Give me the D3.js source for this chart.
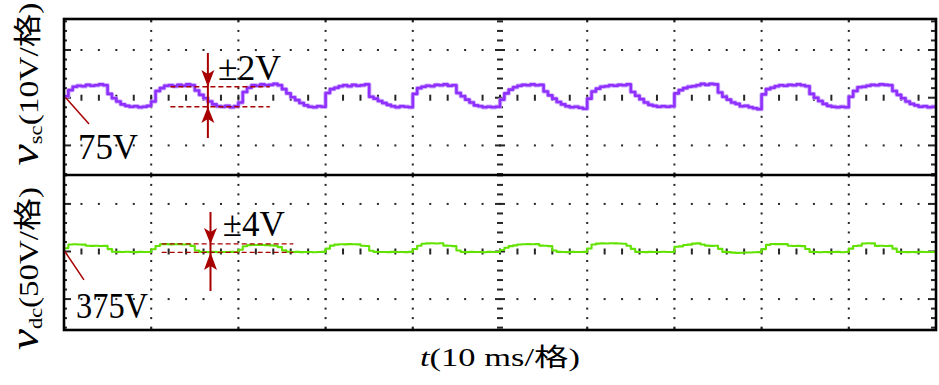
<!DOCTYPE html>
<html><head><meta charset="utf-8">
<script src="https://cdn.jsdelivr.net/npm/d3@7/dist/d3.min.js"></script>
<style>html,body{margin:0;padding:0;background:#fff;} svg{display:block;}</style>
</head><body>
<svg id="chart" width="939" height="385"></svg>
<script>
// ---- data (time in ms, 10 ms/div; traces in volts) ----
const timeMs = [
 0,0.5,1,1.5,2,2.5,3,3.5,4,4.5,5,5.5,6,6.5,7,7.5,8,8.5,9,9.5,
 10,10.5,11,11.5,12,12.5,13,13.5,14,14.5,15,15.5,16,16.5,17,17.5,18,18.5,19,19.5,
 20,20.5,21,21.5,22,22.5,23,23.5,24,24.5,25,25.5,26,26.5,27,27.5,28,28.5,29,29.5,
 30,30.5,31,31.5,32,32.5,33,33.5,34,34.5,35,35.5,36,36.5,37,37.5,38,38.5,39,39.5,
 40,40.5,41,41.5,42,42.5,43,43.5,44,44.5,45,45.5,46,46.5,47,47.5,48,48.5,49,49.5,
 50,50.5,51,51.5,52,52.5,53,53.5,54,54.5,55,55.5,56,56.5,57,57.5,58,58.5,59,59.5,
 60,60.5,61,61.5,62,62.5,63,63.5,64,64.5,65,65.5,66,66.5,67,67.5,68,68.5,69,69.5,
 70,70.5,71,71.5,72,72.5,73,73.5,74,74.5,75,75.5,76,76.5,77,77.5,78,78.5,79,79.5,
 80,80.5,81,81.5,82,82.5,83,83.5,84,84.5,85,85.5,86,86.5,87,87.5,88,88.5,89,89.5,
 90,90.5,91,91.5,92,92.5,93,93.5,94,94.5,95,95.5,96,96.5,97,97.5,98,98.5,99,99.5,
 100];
const vscVolts = [
 75.3,76.6,77.3,77.5,77.4,77.7,77.5,77.6,77.8,77.6,75.8,74.9,74.2,73.6,73.3,73.1,73.2,73.0,73.1,73.3,
 74.2,76.4,77.0,77.5,77.6,77.4,77.7,77.5,77.8,77.6,76.5,75.6,74.9,74.2,73.6,73.2,73.1,73.3,73.0,73.2,
 74.0,76.2,77.1,77.6,77.5,77.8,77.6,77.7,77.9,77.6,76.8,75.9,75.1,74.5,73.9,73.4,73.1,73.0,73.2,73.1,
 76.0,76.8,77.1,77.4,77.6,77.4,77.7,77.5,77.6,77.8,75.2,74.8,74.3,73.9,73.5,73.2,73.0,73.2,73.1,73.0,
 75.8,77.0,77.3,77.5,77.4,77.7,77.6,77.8,77.5,77.6,76.0,75.3,74.6,74.0,73.4,73.2,73.0,73.1,73.0,73.1,
 74.6,75.9,76.7,77.2,77.5,77.7,77.6,77.8,77.6,77.7,76.3,75.5,74.8,74.1,73.6,73.2,73.0,73.1,72.9,72.7,
 74.8,76.3,76.9,77.3,77.4,77.6,77.5,77.7,77.6,77.8,76.2,75.4,74.7,74.0,73.5,73.3,73.1,73.2,73.1,73.2,
 75.9,76.6,77.0,77.3,77.4,77.6,77.9,77.7,77.9,77.8,76.1,75.2,74.6,74.0,73.7,73.2,73.3,73.0,72.8,72.6,
 75.7,76.8,77.1,77.4,77.6,77.5,77.7,77.6,77.8,77.6,77.4,75.8,75.0,74.3,73.7,73.3,73.1,73.0,73.1,73.0,
 75.2,76.4,77.2,77.3,77.5,77.7,77.6,77.8,77.7,77.6,76.4,75.6,74.9,74.2,73.7,73.4,73.1,73.2,73.0,73.1,
 73.1];
const vdcVolts = [
 378.4,382.3,382.6,382.4,382.2,381.0,380.9,381.1,380.8,380.9,377.5,374.8,374.6,374.4,374.7,374.5,374.3,374.6,374.4,374.5,
 377.3,380.8,382.6,382.7,382.5,382.6,382.8,382.4,382.6,380.9,376.0,374.6,374.5,374.3,374.6,374.2,374.5,374.4,374.6,374.5,
 376.8,380.5,381.7,381.9,381.8,381.9,381.7,381.4,381.2,379.6,376.2,374.7,374.5,374.6,374.3,374.5,374.4,374.2,374.5,374.6,
 378.0,381.2,382.2,382.6,382.5,382.7,382.6,382.5,381.1,380.8,375.8,374.6,374.4,374.5,374.3,374.6,374.4,374.5,374.3,374.6,
 377.6,381.0,383.2,383.5,383.6,383.4,383.6,381.2,381.0,380.6,376.0,374.5,374.3,374.6,374.4,374.5,374.2,374.6,374.4,374.5,
 376.5,379.0,380.6,381.4,382.4,382.6,382.8,382.6,382.7,381.2,381.0,380.6,376.0,374.6,374.4,374.3,374.6,374.5,374.4,374.6,
 378.2,382.3,383.3,383.5,383.4,383.6,383.5,383.4,383.2,381.0,377.8,374.6,374.5,374.3,374.6,374.4,374.5,374.7,374.4,374.5,
 380.0,380.4,381.8,382.2,383.3,383.5,382.4,381.2,380.9,381.1,377.8,374.6,374.3,373.8,373.6,373.7,373.9,374.0,374.2,374.3,
 377.5,382.0,382.9,382.8,382.7,382.8,381.0,380.8,380.9,380.7,377.6,374.6,374.4,374.2,374.5,374.3,374.4,374.6,374.2,374.4,
 378.0,380.8,381.2,383.4,383.6,383.5,380.9,381.0,380.8,380.9,378.0,374.6,374.4,374.3,374.5,374.3,374.6,374.4,374.5,374.4,
 374.5];
const panelNames = ["v", "v"];
const panelSubs = ["sc", "dc"];
const panelScales = ["(10V/格)", "(50V/格)"];
const offsetLabels = ["75V", "375V"];
const rippleLabels = ["±2V", "±4V"];
const xLabelVar = "t";
const xLabelRest = "(10 ms/格)";

// ---- layout ----
const svg = d3.select("#chart");
const FONT = "'Liberation Serif','Times New Roman','Noto Sans CJK SC',serif";
const RED = "#A80000";
const L = 64, R = 936;
const x = d3.scaleLinear().domain([0, 100]).range([L, R]);

const panels = [
  { values: vscVolts, core: "#9030FF", glow: "#C49CFF", coreW: 2.6, glowW: 4.4,
    y: d3.scaleLinear().domain([58.8, 91.5]).range([175, 19]), center: 75, major: 10, minor: 2,
    top: 19, bottom: 175 },
  { values: vdcVolts, core: "#62E200", glow: null, coreW: 2.1, glowW: 0,
    y: d3.scaleLinear().domain([292.5, 455.4]).range([330, 175]), center: 375, major: 50, minor: 10,
    top: 175, bottom: 330 }
];

const minorT = d3.range(0, 100.001, 2);
const majorT = [10, 20, 30, 40, 60, 70, 80, 90];
const GRID = "#262626";

panels.forEach((p, i) => {
  const [lo, hi] = p.y.domain();
  const minorV = [];
  for (let v = p.center; v <= hi + 1e-6; v += p.minor) minorV.push(v);
  for (let v = p.center - p.minor; v >= lo - 1e-6; v -= p.minor) minorV.push(v);
  const isMajor = v => Math.abs((v - p.center) / p.major - Math.round((v - p.center) / p.major)) < 1e-6;
  const g = svg.append("g").attr("fill", GRID);
  const dot = (cx, cy, w, h) => g.append("rect").attr("x", cx - w / 2).attr("y", cy - h / 2).attr("width", w).attr("height", h);
  majorT.forEach(t => minorV.forEach(v => dot(x(t), p.y(v), 2, 2)));
  majorT.forEach(t => { dot(x(t), p.top + 1.5, 2, 2); dot(x(t), p.bottom - 1.5, 2, 2); });
  minorV.filter(v => isMajor(v) && v !== p.center).forEach(v => minorT.forEach(t => dot(x(t), p.y(v), 2, 2)));
  minorT.forEach(t => dot(x(t), p.y(p.center), 2, 6));
  minorV.forEach(v => dot(x(50), p.y(v), isMajor(v) ? 10 : 6, 2));
  minorV.forEach(v => {
    const wr = isMajor(v) ? 8 : 5;
    g.append("rect").attr("x", R - wr).attr("y", p.y(v) - 1).attr("width", wr).attr("height", 2);
    const wl = isMajor(v) ? 7 : 3;
    g.append("rect").attr("x", L).attr("y", p.y(v) - 1).attr("width", wl).attr("height", 2);
  });

  const clipId = "clip" + i;
  svg.append("clipPath").attr("id", clipId).append("rect")
    .attr("x", L).attr("y", p.top).attr("width", R - L).attr("height", p.bottom - p.top);
  const line = d3.line().x((d, k) => x(timeMs[k])).y(d => p.y(d)).curve(d3.curveStepAfter);
  const tg = svg.append("g").attr("clip-path", `url(#${clipId})`);
  if (p.glow) tg.append("path").attr("d", line(p.values)).attr("fill", "none")
    .attr("stroke", p.glow).attr("stroke-width", p.glowW).attr("stroke-linejoin", "round").attr("opacity", 0.8);
  tg.append("path").attr("d", line(p.values)).attr("fill", "none")
    .attr("stroke", p.core).attr("stroke-width", p.coreW).attr("stroke-linejoin", "round");
});

const frame = svg.append("g").attr("stroke", "#000").attr("stroke-width", 2.6).attr("fill", "none");
frame.append("rect").attr("x", L).attr("y", 19).attr("width", R - L).attr("height", 330 - 19);
frame.append("line").attr("x1", L).attr("x2", R).attr("y1", 175).attr("y2", 175);

// ---- annotations ----
const ann = [
  { p: panels[0], tArrow: 16.5, vHi: 77.3, vLo: 73.1, t0: 12.2, t1: 23.6, lineTop: 53, lineBot: 138,
    headTop: 70, headBot: 123, leader: [[0.2, 75.0], [2.87, 69.5]] },
  { p: panels[1], tArrow: 16.8, vHi: 383.0, vLo: 374.1, t0: 11.2, t1: 26.3, lineTop: 212, lineBot: 291,
    headTop: 228, headBot: 270, leader: [[0.1, 375.0], [2.29, 345.1]] }
];
ann.forEach(a => {
  const g = svg.append("g");
  [a.vHi, a.vLo].forEach(v => g.append("line")
    .attr("x1", x(a.t0)).attr("x2", x(a.t1)).attr("y1", a.p.y(v)).attr("y2", a.p.y(v))
    .attr("stroke", RED).attr("stroke-width", 1.4).attr("stroke-dasharray", "5,3"));
  const ax = x(a.tArrow);
  g.append("line").attr("x1", ax).attr("x2", ax).attr("y1", a.lineTop).attr("y2", a.lineBot)
    .attr("stroke", RED).attr("stroke-width", 2);
  const yHi = a.p.y(a.vHi), yLo = a.p.y(a.vLo);
  g.append("path").attr("fill", RED)
    .attr("d", `M${ax},${yHi} L${ax - 6.5},${a.headTop} L${ax},${a.headTop + 4} L${ax + 6.5},${a.headTop} Z`);
  g.append("path").attr("fill", RED)
    .attr("d", `M${ax},${yLo} L${ax - 6.5},${a.headBot} L${ax},${a.headBot - 4} L${ax + 6.5},${a.headBot} Z`);
  g.append("line")
    .attr("x1", x(a.leader[0][0])).attr("y1", a.p.y(a.leader[0][1]))
    .attr("x2", x(a.leader[1][0])).attr("y2", a.p.y(a.leader[1][1]))
    .attr("stroke", RED).attr("stroke-width", 1.5);
});

function fitted(tx, ty, rot, anchor, target, build) {
  const g = svg.append("g");
  const t = g.append("text").attr("font-family", FONT).attr("fill", "#000").attr("text-anchor", anchor);
  build(t);
  const w = t.node().getBBox().width;
  const s = target / w;
  g.attr("transform", `translate(${tx},${ty}) rotate(${rot}) scale(${s},1)`);
  return g;
}

fitted(218, 80, 0, "start", 63, t => t.attr("font-size", 35).text(rippleLabels[0]));
fitted(222.7, 235.7, 0, "start", 62, t => t.attr("font-size", 35).text(rippleLabels[1]));
fitted(78, 159, 0, "start", 60, t => t.attr("font-size", 35).text(offsetLabels[0]));
fitted(76, 318, 0, "start", 72, t => t.attr("font-size", 35).text(offsetLabels[1]));

const yLabelPos = [[38, 84], [38, 268.5]];
[0, 1].forEach(i => {
  fitted(yLabelPos[i][0], yLabelPos[i][1], -90, "middle", 163, t => {
    t.append("tspan").attr("font-size", 40).attr("font-style", "italic").text(panelNames[i]);
    t.append("tspan").attr("font-size", 19).attr("dy", 4).text(panelSubs[i]);
    t.append("tspan").attr("font-size", 28).attr("dy", -4).text(panelScales[i]);
  });
});

fitted(500, 366, 0, "middle", 160, t => {
  t.append("tspan").attr("font-size", 25).attr("font-style", "italic").text(xLabelVar);
  t.append("tspan").attr("font-size", 25).text(xLabelRest);
});
</script>
</body></html>
